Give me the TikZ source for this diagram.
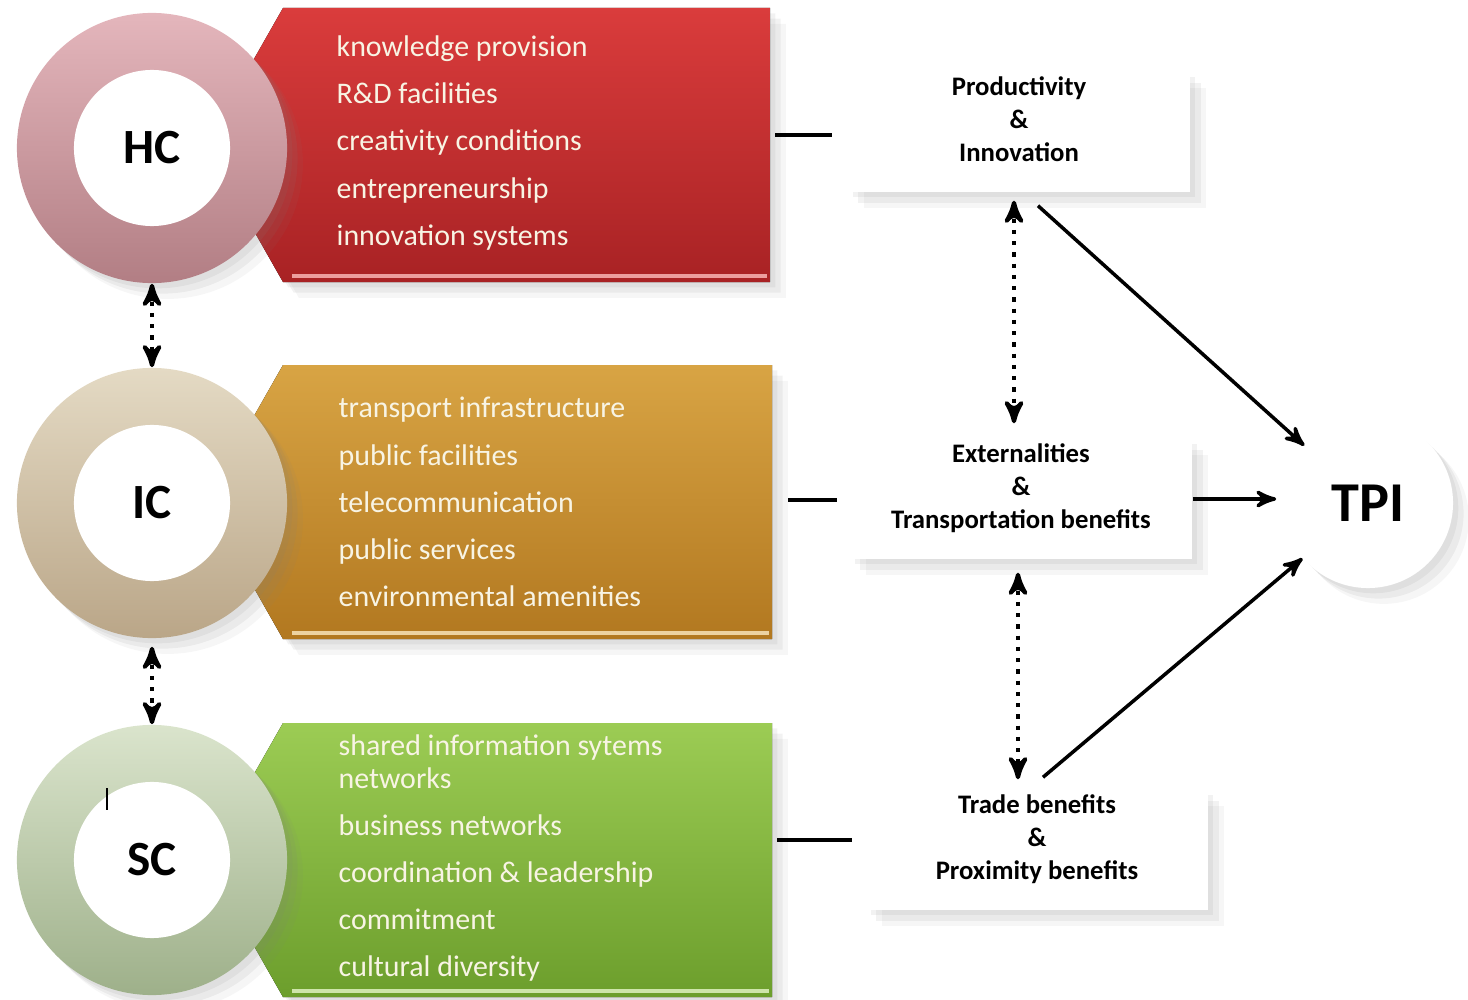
\documentclass[tikz,border=0pt]{standalone}
\usepackage{fontspec}
\setmainfont{Carlito}
\usetikzlibrary{positioning, arrows, shadows, calc}
\definecolor{hcTop}{RGB}{228,182,188}
\definecolor{hcBot}{RGB}{178,126,132}
\definecolor{icTop}{RGB}{228,218,196}
\definecolor{icBot}{RGB}{186,166,136}
\definecolor{scTop}{RGB}{218,228,204}
\definecolor{scBot}{RGB}{158,176,138}
\definecolor{redTop}{RGB}{218,60,60}
\definecolor{redBot}{RGB}{168,34,36}
\definecolor{ochreTop}{RGB}{216,164,68}
\definecolor{ochreBot}{RGB}{178,120,32}
\definecolor{greenTop}{RGB}{156,204,84}
\definecolor{greenBot}{RGB}{108,158,44}
\definecolor{pale}{RGB}{248,244,228}
\tikzset{
	x=0.01cm, y=-0.01cm, % one unit is one pixel of the layout
	>=stealth', % makes the arrow heads bold
	soft shadow/.style={drop shadow={shadow xshift=1.5pt, shadow yshift=-1.5pt, opacity=0.1}, drop shadow={shadow xshift=3pt, shadow yshift=-3pt, opacity=0.1}, drop shadow={shadow xshift=4.5pt, shadow yshift=-4.5pt, opacity=0.07}}, % blurred look
	ring/.style={circle, minimum size=2.7cm, inner sep=0pt, soft shadow}, % coloured outer ring
	hole/.style={circle, fill=white, minimum size=1.56cm, inner sep=0pt, font=\fontsize{14}{16}\selectfont\bfseries},
	items/.style={anchor=west, align=left, inner sep=0pt, text=pale, font=\fontsize{8.5}{9.4}\selectfont},
	effect/.style={fill=white, minimum width=3.42cm, minimum height=1.2cm, inner ysep=0pt, text depth=7.5pt, align=center, font=\fontsize{7.6}{9.4}\selectfont\bfseries, soft shadow},
	tpinode/.style={circle, fill=white, minimum size=1.7cm, inner sep=0pt, font=\fontsize{16}{18}\selectfont\bfseries, soft shadow},
	link/.style={line width=1.2pt, -},
	twoway/.style={<->, line width=1.2pt, dotted},
	flow/.style={->, line width=1pt},
}

\begin{document}
\begin{tikzpicture}
	\useasboundingbox (0,0) rectangle (1468,1000);

	% boxes with a left point, drawn under the rings
	\foreach \cy/\bx/\ctop/\cbot in {145/770/redTop/redBot, 502/772/ochreTop/ochreBot, 860/772/greenTop/greenBot}
	{
		\fill[top color=\ctop, bottom color=\cbot, soft shadow] (283,\cy-137) -- (\bx,\cy-137) -- (\bx,\cy+137) -- (283,\cy+137) -- (205,\cy) -- cycle;
		\draw[\ctop!50!white, line width=1.2pt] (292,\cy+131) -- (\bx-3,\cy+131);
	}

	\foreach \name/\lbl/\cy/\ctop/\cbot in {hc/HC/148/hcTop/hcBot, ic/IC/503/icTop/icBot, sc/SC/860/scTop/scBot}
	{
		\node[ring, top color=\ctop, bottom color=\cbot] (\name) at (152,\cy) {};
		\node[hole] (\name hole) at (\name) {\lbl};
	}
	\draw[line width=0.6pt] (107,788) -- (107,810);

	\node[items] (hclist) at (336,143) {knowledge provision\\[4pt]R\&D facilities\\[4pt]creativity conditions\\[4pt]entrepreneurship\\[4pt]innovation systems};
	\node[items] (iclist) at (338,502) {transport infrastructure\\[4pt]public facilities\\[4pt]telecommunication\\[4pt]public services\\[4pt]environmental amenities};
	\node[items] (sclist) at (338,858) {shared information sytems\\networks\\[4pt]business networks\\[4pt]coordination \& leadership\\[4pt]commitment\\[4pt]cultural diversity};

	\node[effect] (pi) at (1019,132) {Productivity\\\&\\Innovation};
	\node[effect] (ext) at (1021,499) {Externalities\\\&\\Transportation benefits};
	\node[effect] (trade) at (1037,850) {Trade benefits\\\&\\Proximity benefits};
	\node[tpinode] (tpi) at (1368,503) {TPI};

	\coordinate (hcR) at (775,135);
	\coordinate (icR) at (788,500);
	\coordinate (scR) at (777,840);
	\draw[link, shorten >=0.15cm] (hcR) -- (hcR -| pi.west);
	\draw[link, shorten >=0.12cm] (icR) -- (icR -| ext.west);
	\draw[link, shorten >=0.13cm] (scR) -- (scR -| trade.west);

	\draw[twoway] (hc) -- (ic);
	\draw[twoway, shorten <=0.08cm] (ic) -- (sc);
	\coordinate (piDot) at ($(pi.south)+(-5,0)$);
	\coordinate (extDot) at ($(ext.south)+(-3,0)$);
	\draw[twoway, shorten <=0.08cm, shorten >=0.15cm] (piDot) -- (piDot |- ext.north);
	\draw[twoway, shorten <=0.13cm, shorten >=0.1cm] (extDot) -- (extDot |- trade.north);

	\draw[flow] ($(pi.south)+(19,13)$) -- (tpi);
	\draw[flow, shorten >=0.06cm] (ext.east) -- (ext.east -| tpi.west);
	\draw[flow] ($(trade.north)+(6,-12)$) -- (tpi);
\end{tikzpicture}
\end{document}
